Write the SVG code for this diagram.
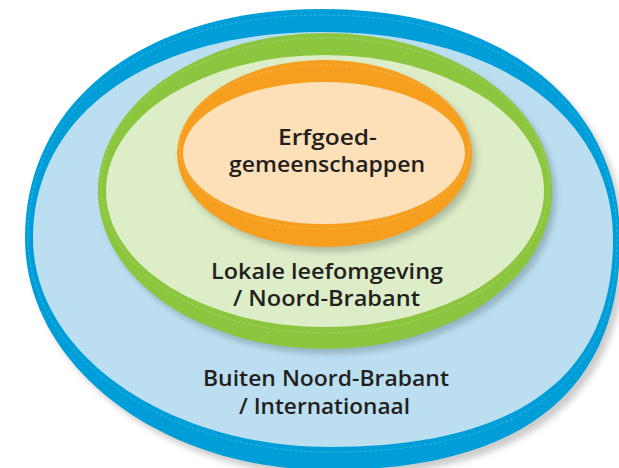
<svg xmlns="http://www.w3.org/2000/svg" width="619" height="468" viewBox="0 0 619 468">
  <style>
    .lbl { font-family: "Open Sans", "Lato", "DejaVu Sans", sans-serif; font-weight: 600; font-size: 21px; fill: #231F20; text-anchor: middle; }
    .dash { fill: none; stroke: #ffffff; stroke-opacity: 0.35; stroke-width: 0.6; stroke-dasharray: 3 2; }
    .shadow { fill: #000000; fill-opacity: 0.2; filter: url(#blur); }
  </style>
  <defs>
    <filter id="blur" x="-10%" y="-10%" width="120%" height="120%">
      <feGaussianBlur stdDeviation="3"/>
    </filter>
  </defs>
  <rect width="619" height="468" fill="#ffffff"/>

  <g id="buiten-noord-brabant">
    <path class="shadow" transform="translate(5,6)" d="M322,9 C501,9 620,101 620,240 C620,392 521,470 328,470 C161,470 25,366 25,238 C25,101 144,9 322,9 Z"/>
    <path fill="#009ED9" d="M322,9 C501,9 620,101 620,240 C620,392 521,470 328,470 C161,470 25,366 25,238 C25,101 144,9 322,9 Z"/>
    <path class="dash" d="M322,15 C499,15 617,104 617,238 C617,381 521,452 330,452 C166,452 28,356 28,237 C28,105 146,15 322,15 Z"/>
    <path fill="#BBDFF1" d="M322,32 C497,32 613,115 613,240 C613,377 517,447 330,447 C166,447 33,353 33,238 C33,114 149,32 322,32 Z"/>
    <text class="lbl" x="326" y="386" textLength="246" lengthAdjust="spacingAndGlyphs">Buiten Noord-Brabant</text>
    <text class="lbl" x="324.5" y="414" textLength="171" lengthAdjust="spacingAndGlyphs">/ Internationaal</text>
  </g>

  <g id="lokale-leefomgeving">
    <ellipse class="shadow" cx="329" cy="196" rx="227" ry="158"/>
    <ellipse fill="#8CC63F" cx="325" cy="191" rx="227" ry="158"/>
    <ellipse class="dash" cx="325" cy="185.5" rx="224" ry="147.5"/>
    <ellipse fill="#DDEDC8" cx="325" cy="191" rx="219" ry="136"/>
    <text class="lbl" x="327" y="279" textLength="232" lengthAdjust="spacingAndGlyphs">Lokale leefomgeving</text>
    <text class="lbl" x="326.5" y="306" textLength="187" lengthAdjust="spacingAndGlyphs">/ Noord-Brabant</text>
  </g>

  <g id="erfgoedgemeenschappen">
    <ellipse class="shadow" cx="328.5" cy="158.5" rx="147.5" ry="93.5"/>
    <ellipse fill="#F69F1F" cx="324.5" cy="153.5" rx="147.5" ry="93.5"/>
    <ellipse class="dash" cx="324.5" cy="147" rx="145" ry="82"/>
    <ellipse fill="#FDE0B8" cx="324" cy="153" rx="141" ry="71"/>
    <text class="lbl" x="327.5" y="145" textLength="99" lengthAdjust="spacingAndGlyphs">Erfgoed-</text>
    <text class="lbl" x="327" y="172" textLength="196" lengthAdjust="spacingAndGlyphs">gemeenschappen</text>
  </g>

  <g id="connectors"/>
</svg>
